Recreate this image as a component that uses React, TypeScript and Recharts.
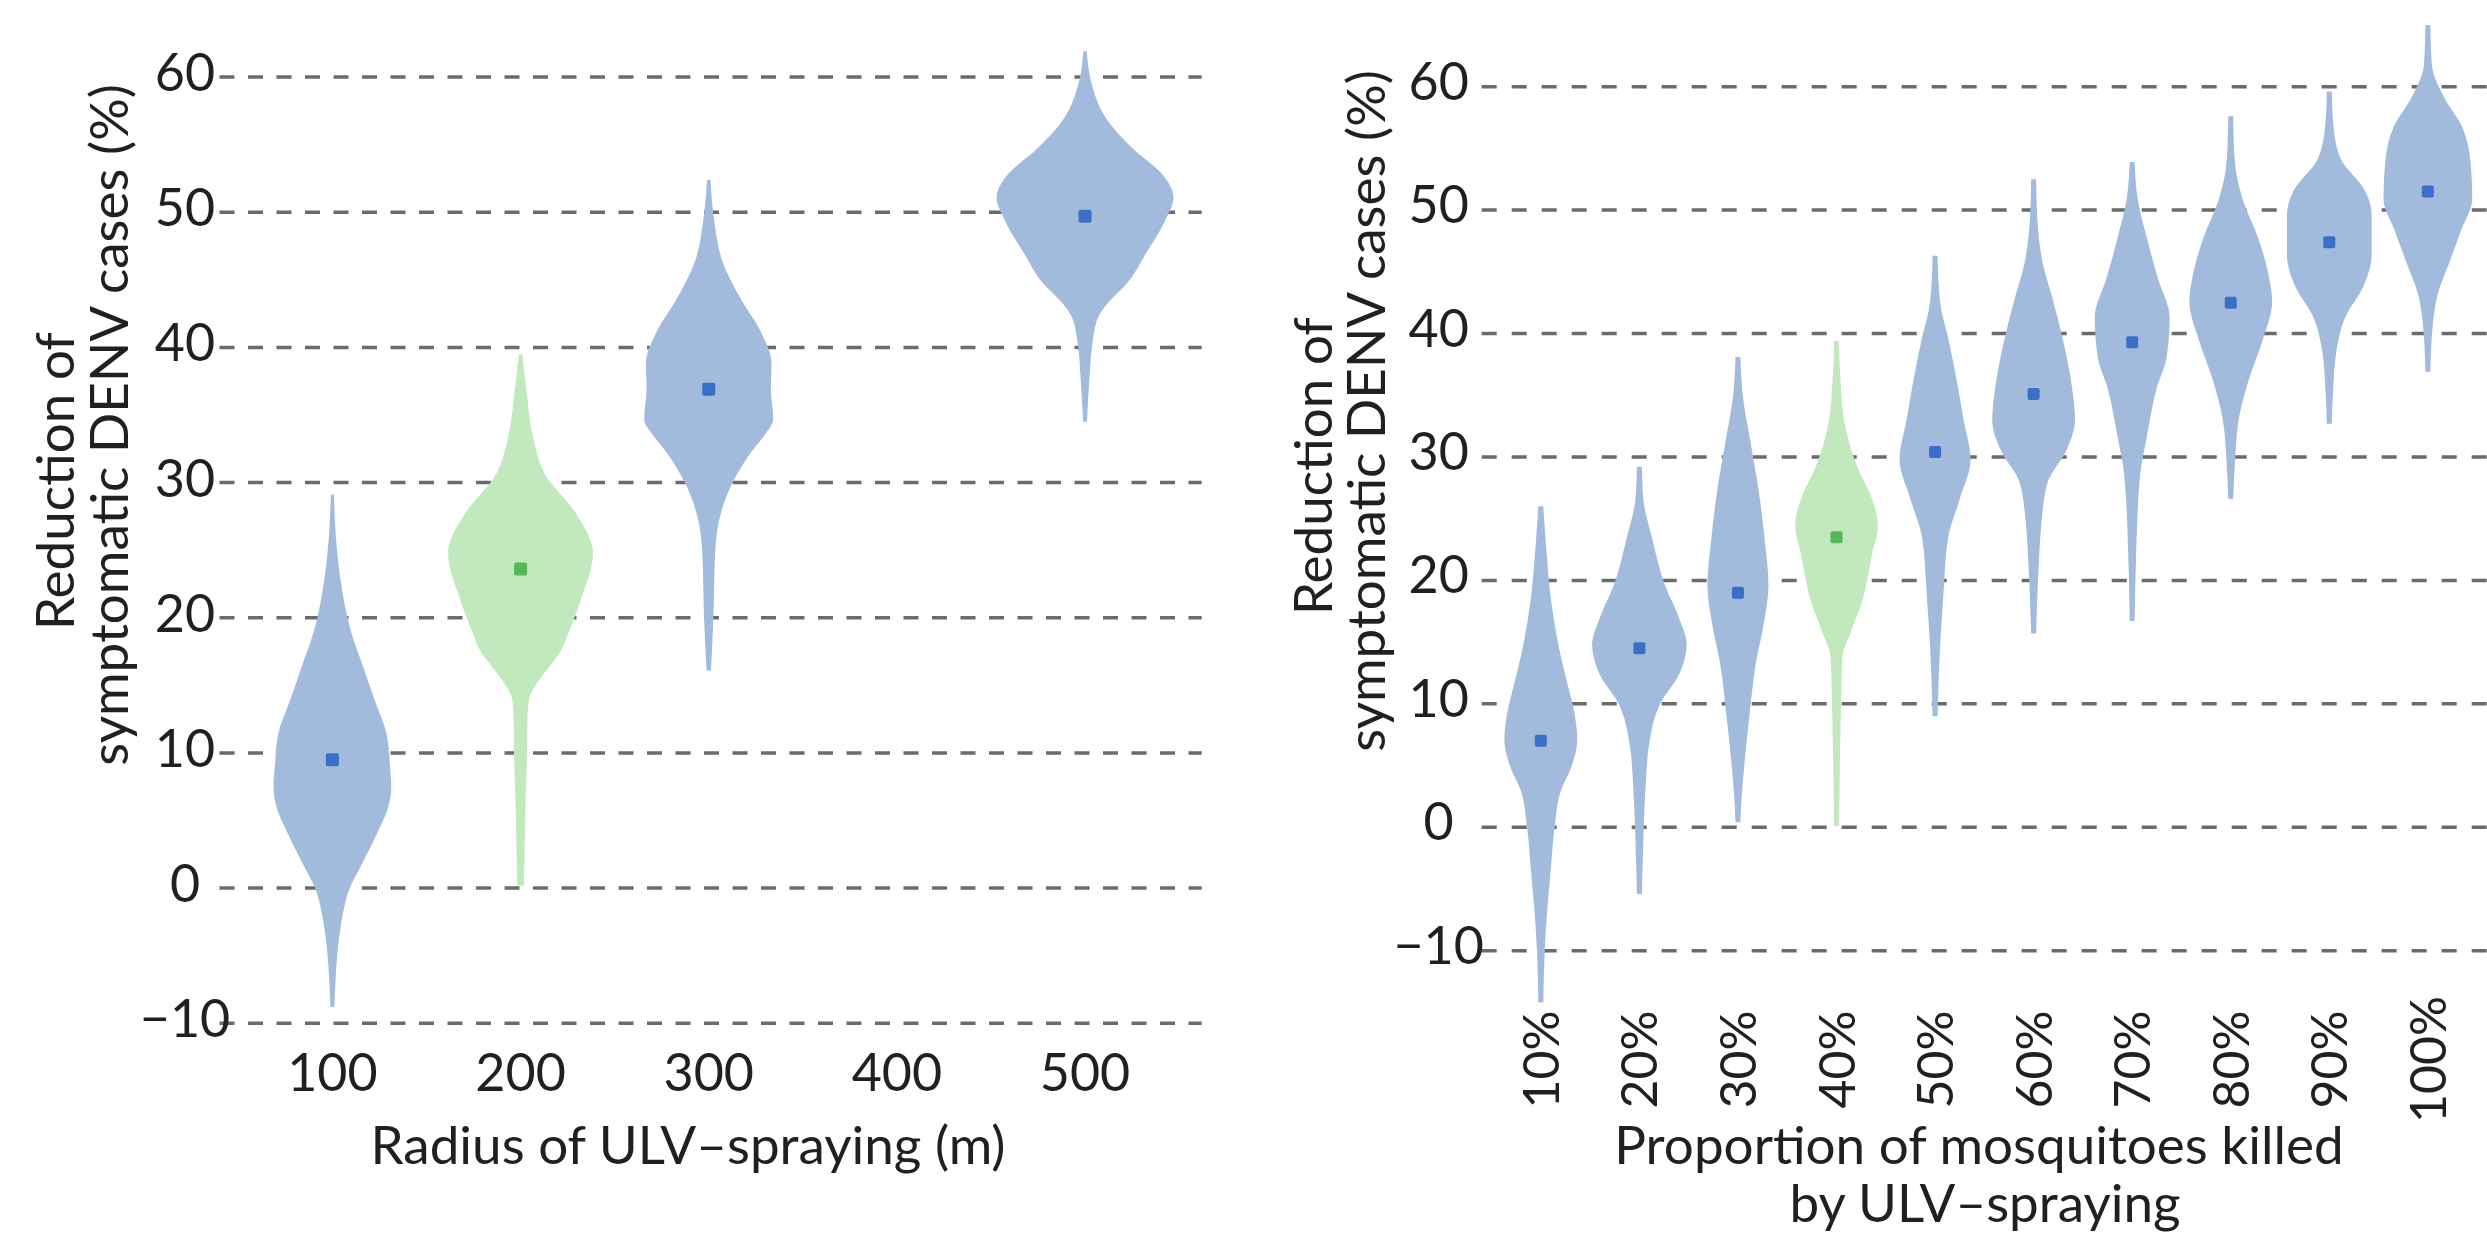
import React from 'react';
import { ComposedChart, Area, Scatter, XAxis, YAxis, CartesianGrid } from 'recharts';

// shared value axis
const yTicks = [-10, 0, 10, 20, 30, 40, 50, 60];

// left panel: radius of ULV-spraying (m)
const radiusTicks = [100, 200, 300, 400, 500];
const radii = [100, 200, 300, 500];
const radiusMeans = [9.5, 23.6, 36.9, 49.7];
const radiusHighlight = 200;
// [reduction %, half width in metres]
const radiusProfiles: number[][][] = [
  [[29.1, 0.8], [27.0, 1.4], [24.5, 2.8], [22.0, 5.2], [20.0, 8.0], [18.9, 10.1], [16.4, 16.3], [13.9, 22.5], [11.4, 28.8], [9.0, 30.6], [7.5, 31.3], [6.0, 29.7], [4.1, 23.9], [1.6, 15.0], [0, 9.2], [-2.1, 5.3], [-4.6, 2.8], [-7.0, 1.6], [-8.8, 1.0]],
  [[39.5, 0.9], [36.5, 3.4], [33.5, 6.4], [30.6, 13.1], [27.7, 29.6], [24.8, 38.5], [21.5, 32.5], [18.9, 25.5], [17.6, 21.6], [16.4, 15.4], [15.2, 8.8], [13.9, 4.4], [12.0, 3.6], [10.0, 3.5], [6.5, 2.7], [3.0, 2.2], [0.2, 1.8]],
  [[52.4, 0.9], [49.3, 3.0], [46.4, 7.2], [43.5, 17.4], [41.1, 27.9], [38.8, 33.4], [37.0, 33.0], [34.7, 34.3], [33.5, 29.6], [32.4, 23.3], [30.0, 12.7], [27.7, 6.4], [24.8, 3.4], [20.1, 2.5], [16.1, 1.2]],
  [[61.9, 0.9], [59.8, 3.0], [56.9, 11.4], [54.6, 26.2], [52.8, 41.1], [51.1, 47.0], [49.3, 42.3], [47.0, 32.6], [44.7, 22.0], [43.5, 13.5], [42.3, 7.2], [40.6, 4.2], [37.6, 2.3], [34.5, 1.0]],
];

// right panel: proportion of mosquitoes killed (%)
const killTicks = [10, 20, 30, 40, 50, 60, 70, 80, 90, 100];
const killMeans = [7.0, 14.5, 19.0, 23.5, 30.4, 35.1, 39.3, 42.5, 47.4, 51.5];
const killHighlight = 40;
// [reduction %, half width in % killed]
const killProfiles: number[][][] = [
  [[26.0, 0.25], [22.1, 0.6], [18.3, 1.05], [14.5, 1.85], [11.3, 2.8], [9.3, 3.4], [7.1, 3.7], [4.9, 3.1], [2.9, 2.0], [0, 1.4], [-3.5, 1.0], [-6.7, 0.65], [-9.9, 0.4], [-14.2, 0.25]],
  [[29.2, 0.25], [26.6, 0.4], [23.4, 1.3], [19.6, 2.6], [17.0, 4.0], [14.8, 4.8], [12.5, 4.1], [10.0, 2.1], [6.8, 1.0], [2.9, 0.6], [-2.2, 0.36], [-5.4, 0.25]],
  [[38.1, 0.25], [34.9, 0.5], [31.1, 1.3], [27.3, 2.1], [23.4, 2.7], [19.6, 3.1], [16.4, 2.6], [13.2, 1.8], [9.3, 1.2], [5.5, 0.7], [2.3, 0.36], [0.4, 0.25]],
  [[39.4, 0.25], [36.2, 0.4], [32.4, 0.9], [29.2, 2.1], [26.6, 3.6], [24.4, 4.2], [22.1, 3.6], [18.3, 2.6], [15.7, 1.4], [13.8, 0.6], [9.3, 0.44], [2.9, 0.3], [0.1, 0.25]],
  [[46.3, 0.25], [42.6, 0.5], [39.4, 1.4], [36.2, 2.2], [33.0, 2.9], [29.8, 3.6], [26.6, 2.5], [23.4, 1.3], [18.9, 0.85], [14.5, 0.5], [9.0, 0.25]],
  [[52.5, 0.25], [49.0, 0.4], [45.8, 0.9], [42.6, 2.0], [39.4, 3.0], [35.6, 3.9], [33.0, 4.2], [30.5, 3.3], [27.9, 1.4], [24.7, 0.8], [20.9, 0.5], [15.7, 0.25]],
  [[53.9, 0.25], [50.9, 0.56], [47.7, 1.5], [44.5, 2.6], [41.3, 3.8], [38.1, 3.5], [35.6, 2.5], [31.7, 1.5], [28.5, 0.8], [22.1, 0.4], [16.7, 0.25]],
  [[57.6, 0.25], [54.1, 0.4], [50.9, 1.2], [47.7, 2.8], [44.5, 3.9], [42.6, 4.2], [39.4, 3.2], [36.2, 1.8], [33.0, 0.8], [29.8, 0.44], [26.6, 0.25]],
  [[59.6, 0.25], [56.7, 0.44], [54.1, 1.2], [51.6, 3.6], [49.6, 4.3], [46.4, 4.3], [43.9, 3.5], [41.3, 1.6], [38.8, 0.76], [35.6, 0.4], [32.7, 0.25]],
  [[65.0, 0.25], [61.8, 0.4], [59.2, 1.6], [56.7, 3.5], [54.1, 4.3], [50.9, 4.5], [48.4, 3.4], [45.8, 2.2], [43.2, 1.0], [40.7, 0.5], [36.9, 0.25]],
];

const FONT = 'Lato, "Open Sans", sans-serif';
const INK = '#231f20';
const BLUE = '#a2badb';
const GREEN = '#c2e8be';
const BLUE_MARK = '#3a6fc6';
const GREEN_MARK = '#55b65a';

// violin outline rows, top to bottom
const buildRows = (center: number, profile: number[][]) =>
  [...profile]
    .sort((a, b) => b[0] - a[0])
    .map(([v, w]) => ({ y: v, span: [center - w, center + w] }));

const minus = (v: number) => (v < 0 ? `\u2212${Math.abs(v)}` : `${v}`);

const makeYTick = (dx: number, dy: number) => (props: any) => {
  const { x, y, payload } = props;
  return (
    <text x={x + dx} y={y + dy} textAnchor="middle" fontFamily={FONT} fontSize={52} fill={INK}>
      {minus(payload.value)}
    </text>
  );
};

const RadiusTick = (props: any) => {
  const { x, y, payload } = props;
  return (
    <text x={x} y={y + 68} textAnchor="middle" fontFamily={FONT} fontSize={52} fill={INK}>
      {payload.value}
    </text>
  );
};

const KillTick = (props: any) => {
  const { x, y, payload } = props;
  const cy = y + 47;
  return (
    <text
      x={x}
      y={cy}
      dy="0.36em"
      textAnchor="middle"
      transform={`rotate(-90 ${x} ${cy})`}
      fontFamily={FONT}
      fontSize={50}
      fill={INK}
    >
      {`${payload.value}%`}
    </text>
  );
};

const makeMark = (size: number) => (props: any) => {
  const { cx, cy, payload } = props;
  return (
    <rect
      x={cx - size / 2}
      y={cy - size / 2}
      width={size}
      height={size}
      rx={2}
      fill={payload.hl ? GREEN_MARK : BLUE_MARK}
    />
  );
};

function LeftPanel() {
  const means = radii.map((c, i) => ({ x: c, y: radiusMeans[i], hl: c === radiusHighlight }));
  return (
    <ComposedChart width={1250} height={1239} layout="vertical" margin={{ top: 36.5, right: 48.3, bottom: 0, left: 0 }}>
      <CartesianGrid vertical={false} syncWithTicks stroke="#6b6b6b" strokeWidth={3.5} strokeDasharray="15 13.5" />
      <XAxis
        type="number"
        dataKey="x"
        domain={[40, 562]}
        ticks={radiusTicks}
        interval={0}
        allowDataOverflow
        height={215.7}
        axisLine={false}
        tickLine={false}
        tickSize={0}
        tickMargin={0}
        tick={RadiusTick}
      />
      <YAxis
        type="number"
        dataKey="y"
        domain={[-10, 63]}
        ticks={yTicks}
        interval={0}
        reversed
        allowDataOverflow
        width={219.5}
        axisLine={false}
        tickLine={false}
        tickSize={0}
        tickMargin={0}
        tick={makeYTick(-34.5, 14)}
      />
      {radii.map((c, i) => {
        const hl = c === radiusHighlight;
        return (
          <Area
            key={c}
            data={buildRows(c, radiusProfiles[i])}
            dataKey="span"
            type="monotone"
            stroke="none"
            fill={hl ? GREEN : BLUE}
            fillOpacity={1}
            isAnimationActive={false}
          />
        );
      })}
      <Scatter data={means} shape={makeMark(13)} isAnimationActive={false} />
    </ComposedChart>
  );
}

function RightPanel() {
  const means = killTicks.map((c, i) => ({ x: c, y: killMeans[i], hl: c === killHighlight }));
  return (
    <ComposedChart width={1237} height={1239} layout="vertical" margin={{ top: 12.6, right: 0, bottom: 0, left: 0 }}>
      <CartesianGrid vertical={false} syncWithTicks stroke="#6b6b6b" strokeWidth={3.5} strokeDasharray="15 15" />
      <XAxis
        type="number"
        dataKey="x"
        domain={[4, 106]}
        ticks={killTicks}
        interval={0}
        allowDataOverflow
        height={226.6}
        axisLine={false}
        tickLine={false}
        tickSize={0}
        tickMargin={0}
        tick={KillTick}
      />
      <YAxis
        type="number"
        dataKey="y"
        domain={[-15, 66]}
        ticks={yTicks}
        interval={0}
        reversed
        allowDataOverflow
        width={231.7}
        axisLine={false}
        tickLine={false}
        tickSize={0}
        tickMargin={0}
        tick={makeYTick(-43, 13)}
      />
      {killTicks.map((c, i) => {
        const hl = c === killHighlight;
        return (
          <Area
            key={c}
            data={buildRows(c, killProfiles[i])}
            dataKey="span"
            type="monotone"
            stroke="none"
            fill={hl ? GREEN : BLUE}
            fillOpacity={1}
            isAnimationActive={false}
          />
        );
      })}
      <Scatter data={means} shape={makeMark(12)} isAnimationActive={false} />
    </ComposedChart>
  );
}

const titleStyle = { fontFamily: FONT, fontSize: 53, fill: INK } as const;

export default function App() {
  return (
    <div style={{ position: 'absolute', left: 0, top: 0, width: 2487, height: 1239, overflow: 'hidden', background: '#fff' }}>
      <div style={{ position: 'absolute', left: 0, top: 0 }}>
        <LeftPanel />
      </div>
      <div style={{ position: 'absolute', left: 1250, top: 0 }}>
        <RightPanel />
      </div>
      <svg width={2487} height={1239} style={{ position: 'absolute', left: 0, top: 0, pointerEvents: 'none' }}>
        <text x={688} y={1164} textAnchor="middle" {...titleStyle}>Radius of ULV–spraying (m)</text>
        <text x={74} y={481} textAnchor="middle" transform="rotate(-90 74 481)" {...titleStyle}>Reduction of</text>
        <text x={128} y={425} textAnchor="middle" transform="rotate(-90 128 425)" {...titleStyle}>symptomatic DENV cases (%)</text>

        <text x={1979} y={1164} textAnchor="middle" {...titleStyle}>Proportion of mosquitoes killed</text>
        <text x={1985} y={1222} textAnchor="middle" {...titleStyle}>by ULV–spraying</text>
        <text x={1332} y={466} textAnchor="middle" transform="rotate(-90 1332 466)" {...titleStyle}>Reduction of</text>
        <text x={1385} y={411} textAnchor="middle" transform="rotate(-90 1385 411)" {...titleStyle}>symptomatic DENV cases (%)</text>
      </svg>
    </div>
  );
}
